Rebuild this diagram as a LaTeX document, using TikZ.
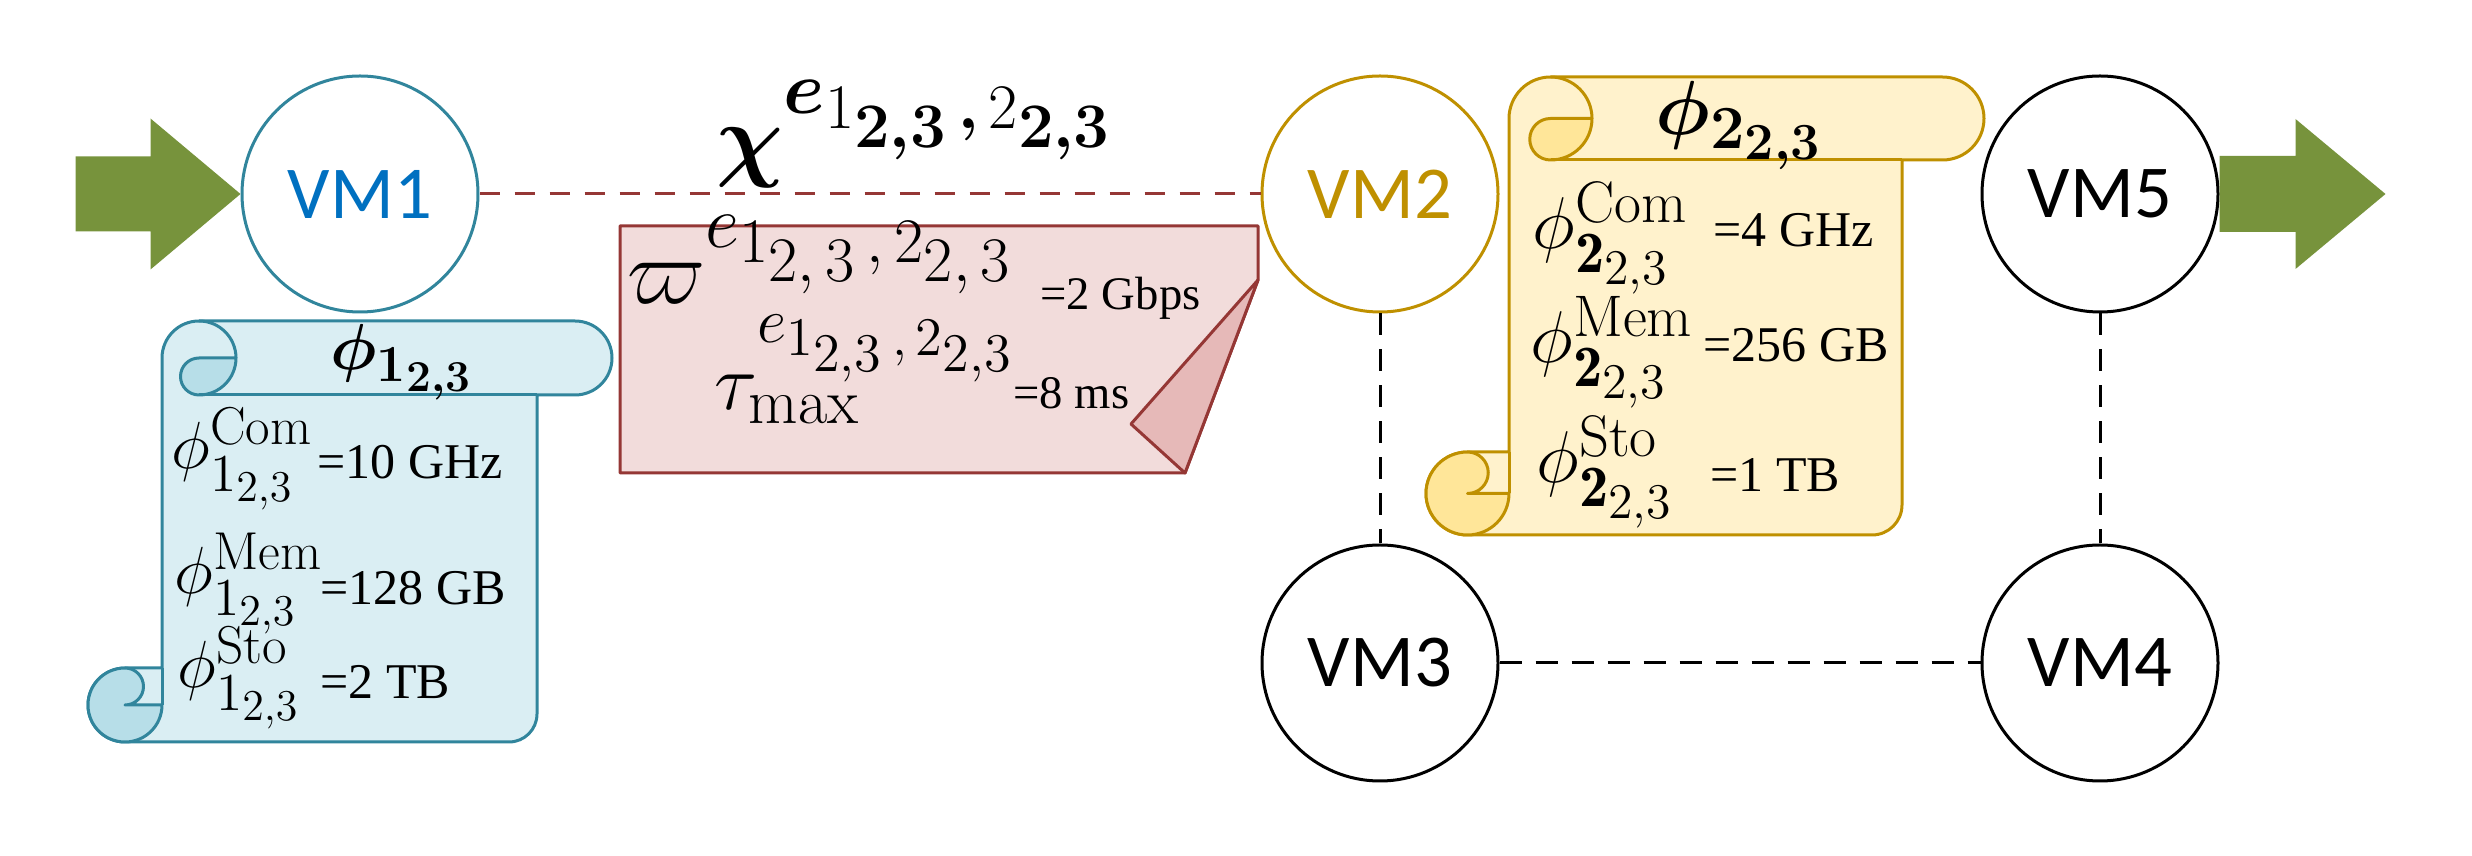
\RequirePackage{fix-cm}
\documentclass[tikz,border=0pt]{standalone}
\usepackage{amsmath}
\usepackage{bm}
\usepackage{fontspec}
\newfontfamily\calfont{Carlito}
\newfontfamily\tnrfont{Liberation Serif}
\usetikzlibrary{calc}
\DeclareMathSizes{19.5}{19.5}{15.6}{13.26}
\DeclareMathSizes{20}{20}{16}{13.2}
\DeclareMathSizes{22}{22}{17.6}{14.96}
\DeclareMathSizes{23}{23}{18.4}{15.64}
\DeclareMathSizes{24}{24}{19.2}{16.32}
\DeclareMathSizes{28}{28}{22.4}{19.04}
\definecolor{agreen}{HTML}{77933C}
\definecolor{vmblue}{HTML}{0070C0}
\definecolor{bluefill}{HTML}{DAEEF3}
\definecolor{bluedark}{HTML}{B7DEE8}
\definecolor{blueline}{HTML}{31859C}
\definecolor{redfill}{HTML}{F2DCDB}
\definecolor{reddark}{HTML}{E6B9B8}
\definecolor{redline}{HTML}{953735}
\definecolor{yelfill}{HTML}{FFF2CC}
\definecolor{yeldark}{HTML}{FFE699}
\definecolor{yelline}{HTML}{BF9000}

\newcommand{\drawscroll}[8]{%
  \pgfmathsetmacro\scL{#1}\pgfmathsetmacro\scT{#2}\pgfmathsetmacro\scR{#3}%
  \pgfmathsetmacro\scBr{#4}\pgfmathsetmacro\scB{#5}\pgfmathsetmacro\scr{#6}%
  \pgfmathsetmacro\scrc{#7}%
  \pgfmathsetmacro\sccx{\scL+\scr}\pgfmathsetmacro\sccy{\scT+\scr}%
  \pgfmathsetmacro\scbx{\scL-\scr}\pgfmathsetmacro\scby{\scB-\scr}%
  \pgfmathsetmacro\schr{\scr/2}\pgfmathsetmacro\scbb{\scT+2*\scr}%
  \pgfmathsetmacro\scRr{\scR-\scr}\pgfmathsetmacro\scBc{\scB-\scrc}%
  \pgfmathsetmacro\scrt{\scby-\scr}\pgfmathsetmacro\sccr{\sccx+\scr}%
  \filldraw[fill=#8fill, draw=#8line, scline]
    (\scL,\sccy) arc[start angle=180,end angle=270,radius=\scr]
    -- (\scRr,\scT) arc[start angle=270,end angle=450,radius=\scr]
    -- (\scBr,\scbb) -- (\scBr,\scBc) arc[start angle=0,end angle=90,radius=\scrc]
    -- (\scbx,\scB) arc[start angle=90,end angle=270,radius=\scr]
    -- (\scL,\scrt) -- cycle;
  \filldraw[fill=#8dark, draw=#8line, scline]
    (\sccx,\sccy) -- (\sccr,\sccy) arc[start angle=0,end angle=90,radius=\scr]
    arc[start angle=90,end angle=270,radius=\schr] -- cycle;
  \draw[draw=#8line, scline] (\sccx,\scT) arc[start angle=270,end angle=360,radius=\scr];
  \draw[draw=#8line, scline] (\sccx,\scbb) -- (\scBr,\scbb);
  \filldraw[fill=#8dark, draw=#8line, scline]
    (\scbx,\scby) arc[start angle=90,end angle=-90,radius=\schr]
    arc[start angle=270,end angle=90,radius=\scr]
    arc[start angle=90,end angle=0,radius=\scr] -- cycle;
  \draw[draw=#8line, scline] (\scL,\scrt) -- (\scL,\scby);
}

\begin{document}
\begin{tikzpicture}[x=0.3pt,y=-0.3pt,
  scline/.style={line width=0.9pt, line join=round},
  vm/.style={circle, draw, line width=0.9pt, minimum size=70.8pt, inner sep=0pt,
    font=\calfont\fontsize{22.4}{26}\selectfont},
  reddash/.style={draw=redline, line width=0.9pt, dash pattern=on 6pt off 4.5pt},
  blkdash/.style={draw=black, line width=0.9pt, dash pattern=on 6.6pt off 4.2pt},
  txt/.style={inner sep=0pt, anchor=base west},
  valtxt/.style={txt, font=\tnrfont\fontsize{15}{18}\selectfont},
  smalltxt/.style={txt, font=\tnrfont\fontsize{14}{17}\selectfont},
  rowmath/.style={txt, font=\fontsize{20}{24}\selectfont},
  rowmathy/.style={txt, font=\fontsize{22}{26}\selectfont}]
\useasboundingbox (0,0) rectangle (2472,856);

% VM nodes
\node[vm, draw=blueline, text=vmblue] (vm1) at (360,194) {VM1};
\node[vm, draw=yelline, text=yelline] (vm2) at (1380,194) {VM2};
\node[vm, draw=black] (vm5) at (2100,194) {VM5};
\node[vm, draw=black] (vm3) at (1380,663) {VM3};
\node[vm, draw=black] (vm4) at (2100,663) {VM4};

% connectors
\draw[reddash] (vm1) -- (vm2);
\draw[blkdash] (vm2) -- (vm3);
\draw[blkdash] (vm3) -- (vm4);
\draw[blkdash] (vm5) -- (vm4);

% green arrows
\fill[agreen] ($(vm1.west)+(-165,-37.5)$) -- ($(vm1.west)+(-90,-37.5)$)
  -- ($(vm1.west)+(-90,-75.5)$) -- (vm1.west) -- ($(vm1.west)+(-90,75.5)$)
  -- ($(vm1.west)+(-90,37.5)$) -- ($(vm1.west)+(-165,37.5)$) -- cycle;
\fill[agreen] ($(vm5.east)+(0,-38)$) -- ($(vm5.east)+(76,-38)$)
  -- ($(vm5.east)+(76,-75)$) -- ($(vm5.east)+(166,0)$) -- ($(vm5.east)+(76,75)$)
  -- ($(vm5.east)+(76,38)$) -- ($(vm5.east)+(0,38)$) -- cycle;

% chi label
\node[txt, font=\fontsize{28}{34}\selectfont] (chi) at (716,170)
  {$\bm{\chi}^{\bm{e}_{1_{\bm{2,3}}\,\bm{,}\,2_{\bm{2,3}}}}$};

% red note
\filldraw[fill=redfill, draw=redline, scline] (620,226) -- (1258,226) -- (1258,280)
  -- (1185,473) -- (620,473) -- cycle;
\filldraw[fill=reddark, draw=redline, scline] (1258,280) -- (1131,424) -- (1185,473) -- cycle;
\node[txt, font=\fontsize{28}{34}\selectfont] (bw) at (627,304)
  {$\varpi^{e_{1_{2,\,3}\,,\,2_{2,\,3}}}$};
\node[smalltxt] (bwv) at (1040,310) {=2 Gbps};
\node[txt, font=\fontsize{24}{28}\selectfont] (tau) at (714,410)
  {$\tau^{e_{1_{2,3}\,,\,2_{2,3}}}_{\max}$};
\node[smalltxt] (tauv) at (1013,409) {=8 ms};

% blue scroll
\drawscroll{162}{321}{612}{537}{742}{37}{28}{blue}
\node[txt, font=\fontsize{19.5}{24}\selectfont] (t1) at (330,370) {$\bm{\phi_{1_{2,3}}}$};
\node[rowmath] (c1) at (171,469) {$\phi^{\mathrm{Com}}_{1_{2,3}}$};
\node[valtxt] (c1v) at (317,479) {=10 GHz};
\node[rowmath] (m1) at (174,594) {$\phi^{\mathrm{Mem}}_{1_{2,3}}$};
\node[valtxt] (m1v) at (320,605) {=128 GB};
\node[rowmath] (s1) at (177,688) {$\phi^{\mathrm{Sto}}_{1_{2,3}}$};
\node[valtxt] (s1v) at (320,699) {=2 TB};

% yellow scroll
\drawscroll{1509}{77}{1984}{1902}{535}{41.5}{30}{yel}
\node[txt, font=\fontsize{23}{28}\selectfont] (t2) at (1655,135) {$\bm{\phi_{2_{2,3}}}$};
\node[rowmathy] (c2) at (1532,249) {$\phi^{\mathrm{Com}}_{\mathbf{2}_{2,3}}$};
\node[valtxt] (c2v) at (1713,247) {=4 GHz};
\node[rowmathy] (m2) at (1530,363) {$\phi^{\mathrm{Mem}}_{\mathbf{2}_{2,3}}$};
\node[valtxt] (m2v) at (1703,362) {=256 GB};
\node[rowmathy] (s2) at (1536,483) {$\phi^{\mathrm{Sto}}_{\mathbf{2}_{2,3}}$};
\node[valtxt] (s2v) at (1710,492) {=1 TB};
\end{tikzpicture}
\end{document}
